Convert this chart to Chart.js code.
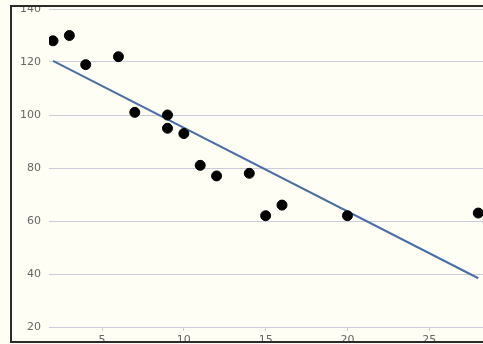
<!DOCTYPE html>
<html>
<head>
<meta charset="utf-8">
<script src="https://cdn.jsdelivr.net/npm/chart.js@4/dist/chart.umd.min.js"></script>
<style>
  html, body { margin: 0; padding: 0; width: 483px; height: 344px; overflow: hidden; background: #fefef5; }
  #frame {
    position: absolute; left: 10px; top: 5px;
    width: 540px; height: 334px;
    border: 2px solid #2b2b2b;
    overflow: hidden; background: #fefef5;
  }
  #plot { position: absolute; left: -12px; top: -27px; }
</style>
</head>
<body>
<div id="frame"><canvas id="plot" width="520" height="367"></canvas></div>
<script>
// Observations (x, y)
const xValues = [2, 3, 4, 6, 7, 9, 9, 10, 11, 12, 14, 15, 16, 20, 28];
const yValues = [128, 130, 119, 122, 101, 100, 95, 93, 81, 77, 78, 62, 66, 62, 63];

// Least-squares trend line end points
const trendX = [2, 28];
const trendY = [120.4, 38.4];

// Axis ticks
const xTicks = [5, 10, 15, 20, 25];
const yTicks = [20, 40, 60, 80, 100, 120, 140];

const gridColor = '#c9cddb';
const labelColor = '#666666';

Chart.defaults.font.family = '"DejaVu Sans", sans-serif';
Chart.defaults.font.size = 11;
Chart.defaults.color = labelColor;

new Chart(document.getElementById('plot'), {
  type: 'scatter',
  data: {
    datasets: [
      {
        label: 'data',
        data: xValues.map((x, i) => ({ x: x, y: yValues[i] })),
        backgroundColor: '#000000',
        borderColor: '#000000',
        pointRadius: 5,
        pointHoverRadius: 5,
        order: 1
      },
      {
        label: 'trend',
        data: trendX.map((x, i) => ({ x: x, y: trendY[i] })),
        showLine: true,
        borderColor: '#4a6ea6',
        borderWidth: 2,
        pointRadius: 0,
        fill: false,
        order: 2
      }
    ]
  },
  options: {
    responsive: false,
    animation: false,
    events: [],
    layout: { padding: { left: 0, top: 29, right: 9, bottom: 0 } },
    plugins: { legend: { display: false }, tooltip: { enabled: false } },
    scales: {
      x: {
        type: 'linear',
        min: 1.755,
        max: 30,
        border: { display: false },
        grid: { drawOnChartArea: false, drawTicks: true, tickLength: 4, color: gridColor },
        ticks: { padding: 3, color: labelColor },
        afterBuildTicks: s => { s.ticks = xTicks.map(v => ({ value: v })); },
        afterFit: s => { s.height = 20; }
      },
      y: {
        type: 'linear',
        min: 20,
        max: 140,
        border: { display: false },
        grid: { drawTicks: false, color: gridColor, lineWidth: 1 },
        ticks: { padding: 8, color: labelColor },
        afterBuildTicks: s => { s.ticks = yTicks.map(v => ({ value: v })); },
        afterFit: s => { s.width = 49; }
      }
    }
  }
});
</script>
</body>
</html>
